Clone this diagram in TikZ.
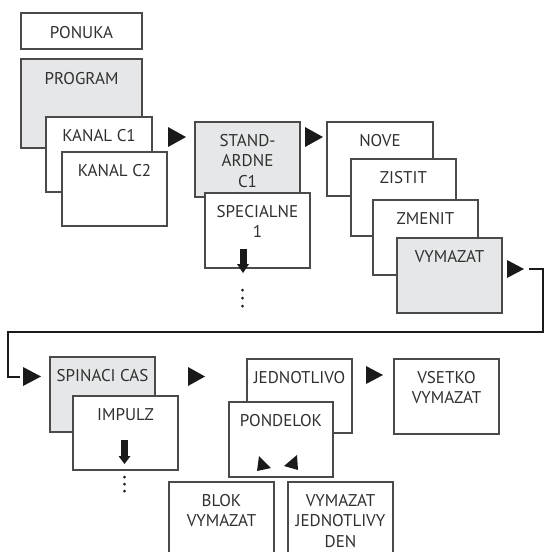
\documentclass[tikz,border=0pt]{standalone}
\usepackage{fontspec}
\setmainfont{PT Sans}
\usetikzlibrary{fit}
\definecolor{boxc}{HTML}{4A4A4A}
\definecolor{grayfill}{HTML}{E6E7E8}
\definecolor{txtc}{HTML}{303030}
\definecolor{markc}{HTML}{1A1A1A}
\tikzset{
  box/.style={draw=boxc, line width=1.1pt, fill=white, inner sep=0pt, outer sep=0pt},
  gbox/.style={box, fill=grayfill},
  txt/.style={anchor=north, inner sep=0pt, align=center, text=txtc,
    font=\fontsize{17}{20.5}\selectfont},
  conn/.style={draw=markc, line width=1.8pt},
  tri/.style={fill=markc},
}
\begin{document}
\begin{tikzpicture}[x=1pt, y=-1pt]
\useasboundingbox (0,0) rectangle (544,552);
\clip (0,0) rectangle (544,552);
% top-left column
\node[box, fit={(21,13) (142,49)}] (ponuka) {};
\node[txt] (tponuka) at ([yshift=-13.5pt]ponuka.north) {PONUKA};
\node[gbox, fit={(21,59) (142,148)}] (program) {};
\node[txt] (tprogram) at ([yshift=-13pt]program.north) {PROGRAM};
\node[box, fit={(46,117) (152,192)}] (kc1) {};
\node[txt] (tkc1) at ([yshift=-12pt]kc1.north) {KANAL C1};
\node[box, fit={(62,152) (167,226)}] (kc2) {};
\node[txt] (tkc2) at ([yshift=-12pt]kc2.north) {KANAL C2};
% arrow 1
\fill[tri] (168,127) -- (186,137) -- (168,147) -- cycle;
% standard / special
\node[gbox, fit={(195,122) (300,197)}] (std) {};
\node[txt] (tstd) at ([yshift=-12pt]std.north) {STAND-\\ARDNE\\C1};
\node[box, fit={(205,193) (310,268)}] (spec) {};
\node[txt] (tspec) at ([yshift=-12pt]spec.north) {SPECIALNE\\1};
\fill[tri] (239.5,249) rectangle (246.5,265);
\fill[tri] (237,264) -- (249,264) -- (243,273) -- cycle;
\fill[tri] (242.5,290) circle (1.5) (242.5,298) circle (1.5) (242.5,306) circle (1.5);
% arrow 2
\fill[tri] (305,127) -- (323,137) -- (305,147) -- cycle;
% stack
\node[box, fit={(327,122) (433,196)}] (nove) {};
\node[txt] (tnove) at ([yshift=-12pt]nove.north) {NOVE};
\node[box, fit={(351,159) (456,236)}] (zistit) {};
\node[txt] (tzistit) at ([yshift=-12pt]zistit.north) {ZISTIT};
\node[box, fit={(373,200) (478,275)}] (zmenit) {};
\node[txt] (tzmenit) at ([yshift=-12pt]zmenit.north) {ZMENIT};
\node[gbox, fit={(397,238) (502,313)}] (vymazat) {};
\node[txt] (tvymazat) at ([yshift=-12pt]vymazat.north) {VYMAZAT};
% arrow 3
\fill[tri] (507,260) -- (524,269) -- (507,278) -- cycle;
% connector
\coordinate (c0) at (529,269);
\coordinate (c1) at (543,269);
\coordinate (c2) at (543,332);
\coordinate (c3) at (8,332);
\coordinate (c4) at (8,377);
\coordinate (c5) at (20,377);
\draw[conn] (c0) -- (c1) -- (c2) -- (c3) -- (c4) -- (c5);
% arrow 4
\fill[tri] (23,367) -- (41,376.5) -- (23,386) -- cycle;
% spinaci / impulz
\node[gbox, fit={(50,357) (155,432)}] (spinaci) {};
\node[txt] (tspinaci) at ([yshift=-12pt]spinaci.north) {SPINACI CAS};
\node[box, fit={(73,396) (178,470)}] (impulz) {};
\node[txt] (timpulz) at ([yshift=-12pt]impulz.north) {IMPULZ};
\fill[tri] (121,440) rectangle (128,457);
\fill[tri] (118.5,456) -- (130.5,456) -- (124.5,464) -- cycle;
\fill[tri] (124.5,477) circle (1.5) (124.5,484) circle (1.5) (124.5,491) circle (1.5);
% arrow 5
\fill[tri] (188,367) -- (205,376.5) -- (188,386) -- cycle;
% jednotlivo / pondelok
\node[box, fit={(247,359) (352,433)}] (jedn) {};
\node[txt] (tjedn) at ([yshift=-12pt]jedn.north) {JEDNOTLIVO};
\node[box, fit={(229,402) (333,477)}] (pond) {};
\node[txt] (tpond) at ([yshift=-12pt]pond.north) {PONDELOK};
\fill[tri] (259,456) -- (271,468) -- (257,471) -- cycle;
\fill[tri] (297,455) -- (298,470) -- (284,466) -- cycle;
% arrow 6
\fill[tri] (366,366) -- (383,375) -- (366,384) -- cycle;
% vsetko
\node[box, fit={(394,359) (499,434)}] (vsetko) {};
\node[txt] (tvsetko) at ([yshift=-12pt]vsetko.north) {VSETKO\\VYMAZAT};
% bottom row
\node[box, fit={(169,482) (274,562)}] (blok) {};
\node[txt] (tblok) at ([yshift=-12pt]blok.north) {BLOK\\VYMAZAT};
\node[box, fit={(288,482) (393,562)}] (den) {};
\node[txt] (tden) at ([yshift=-12pt]den.north) {VYMAZAT\\JEDNOTLIVY\\DEN};
\end{tikzpicture}
\end{document}
